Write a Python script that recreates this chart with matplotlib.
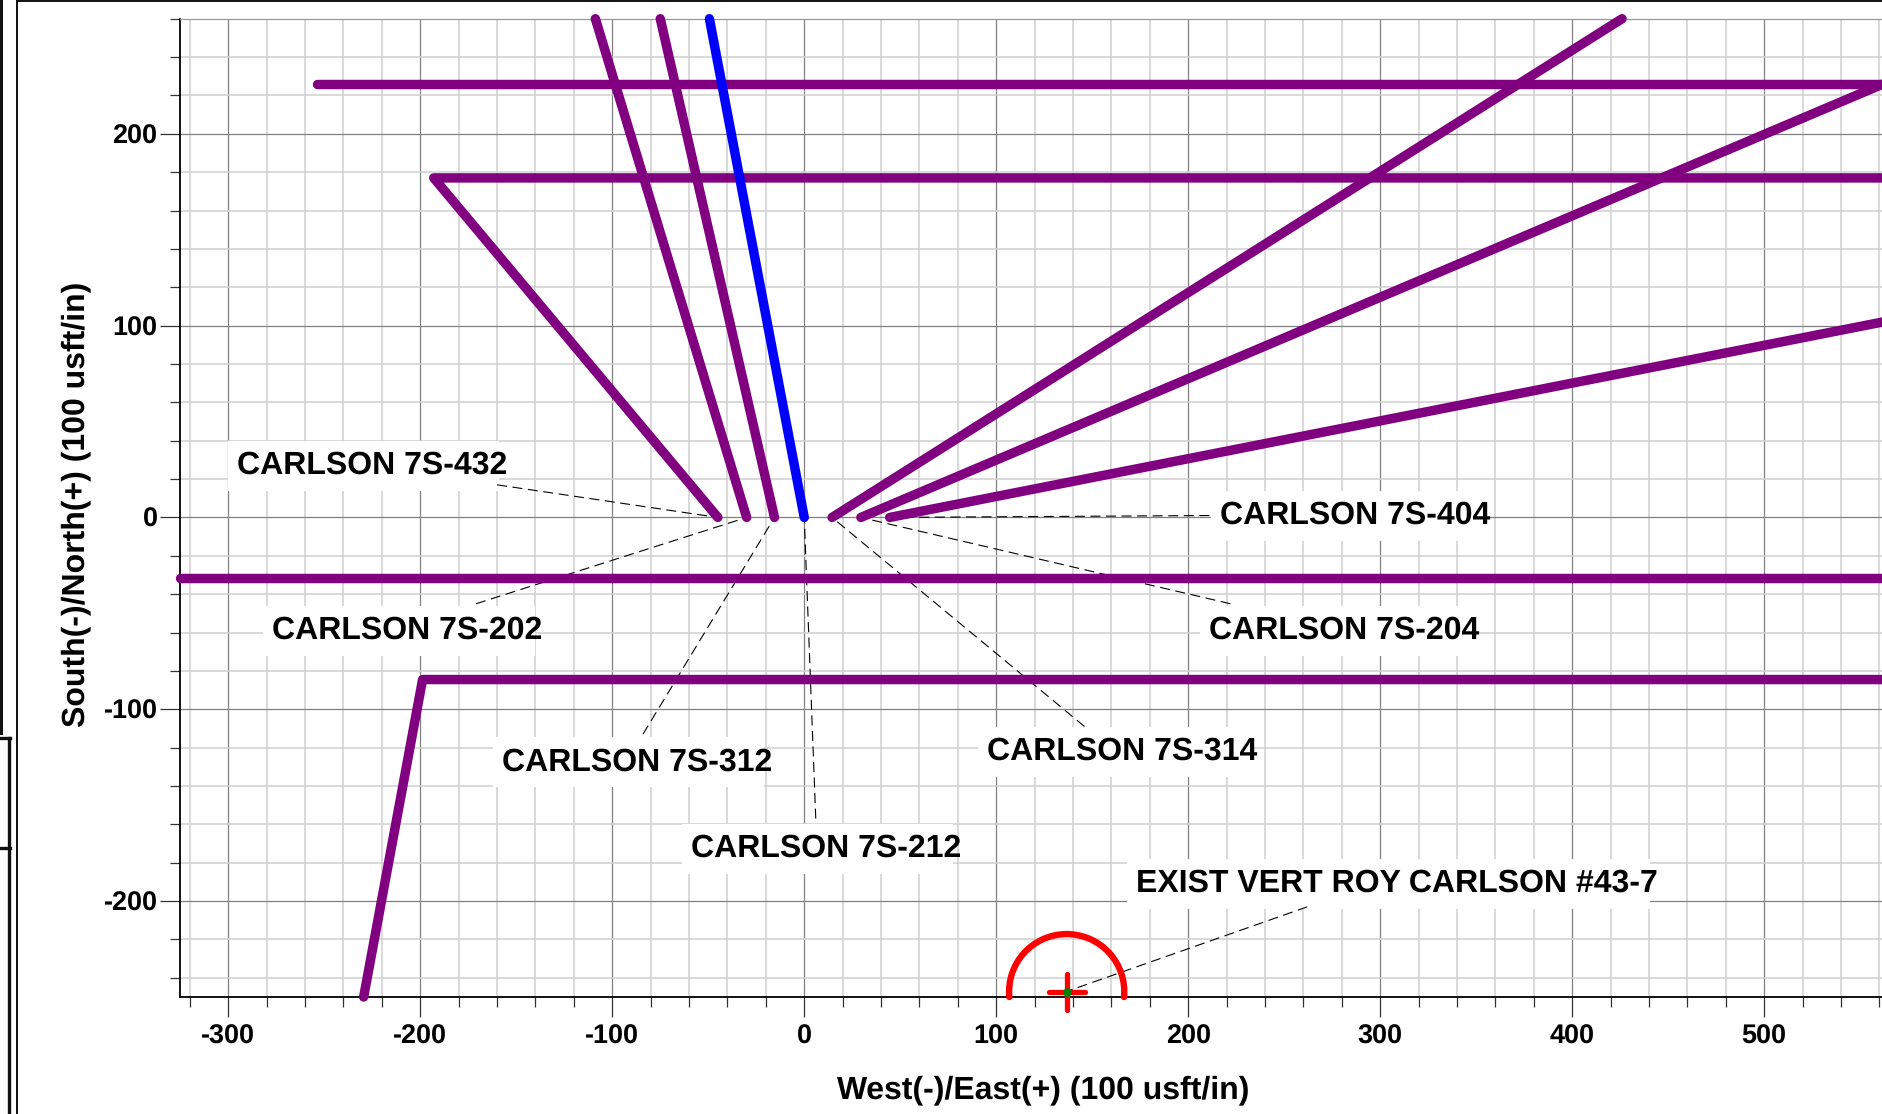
#plots the well plan view, all leg lines with their leader labels
import matplotlib
matplotlib.use("Agg")
import matplotlib.pyplot as plt
from matplotlib.lines import Line2D
from matplotlib.patches import Arc, Rectangle
from matplotlib.ticker import FuncFormatter

plt.rcParams['font.family'] = ['Liberation Sans', 'DejaVu Sans']
plt.rcParams['font.weight'] = 'bold'
plt.rcParams['text.hinting'] = 'no_hinting'
plt.rcParams['text.hinting_factor'] = 1

W, H = 1883, 1114
PURPLE = "#800080"

# wellbore legs, x then y for each
leg_432_x = [-45, -193, 575]
leg_432_y = [0, 177, 177]
leg_202_x = [-30, -108.8]
leg_202_y = [0, 260]
leg_312_x = [-15.5, -75]
leg_312_y = [0, 260]
leg_212_x = [0, -49.4]
leg_212_y = [0, 260]
leg_314_x = [14.5, 426]
leg_314_y = [0, 260]
leg_204_x = [29.5, 575]
leg_204_y = [0, 231.5]
leg_404_x = [44.5, 575]
leg_404_y = [0, 104.5]
top_x = [-254, 575]
top_y = [225.7, 225.7]
mid_x = [-325, 575]
mid_y = [-31.6, -31.6]
low_x = [-229.5, -198.8, 575]
low_y = [-250, -84.5, -84.5]
purple_legs = [(top_x, top_y), (leg_432_x, leg_432_y), (leg_202_x, leg_202_y), (leg_312_x, leg_312_y),
               (leg_314_x, leg_314_y), (leg_204_x, leg_204_y), (leg_404_x, leg_404_y),
               (mid_x, mid_y), (low_x, low_y)]

# label text, anchor (left, middle) and the leader line from it to the well
labels = ["CARLSON 7S-432", "CARLSON 7S-202", "CARLSON 7S-312", "CARLSON 7S-212",
          "CARLSON 7S-314", "CARLSON 7S-204", "CARLSON 7S-404", "EXIST VERT ROY CARLSON #43-7"]
label_x = [-295.6, -277, -157.6, -59, 95.4, 211, 216.5, 173]
label_y = [26.9, -59.1, -127.7, -172.7, -122.1, -59.1, 0.9, -190.9]
leader_x = [[-160, -45], [-171, -30], [-84, -15.5], [6, 0], [146, 14.5], [222, 29.5], [211, 44.5], [262, 137]]
leader_y = [[17, 0], [-45, 0], [-113, 0], [-157, 0], [-109, 0], [-45, 0], [1, 0], [-203, -247]]

# existing vertical well
exist_x = 136.7
exist_y = -247.2
exist_radius = 30
exist_cross = 9.4

xticks_major = [-300, -200, -100, 0, 100, 200, 300, 400, 500]
yticks_major = [-200, -100, 0, 100, 200]
xticks_minor = list(range(-320, 561, 20))
yticks_minor = list(range(-240, 261, 20))

fig = plt.figure(figsize=(W / 100, H / 100), dpi=100)
ax = fig.add_axes([180.3 / W, 1 - 997 / H, (W - 180.3) / W, (997 - 18.7) / H])
ax.set_xlim(-325, 561.9)
ax.set_ylim(-250, 259.7)

ax.set_xticks(xticks_major)
ax.set_yticks(yticks_major)
ax.set_xticks([t for t in xticks_minor if t not in xticks_major], minor=True)
ax.set_yticks([t for t in yticks_minor if t not in yticks_major], minor=True)
plain_minus = FuncFormatter(lambda v, pos: f"{v:.0f}")
ax.xaxis.set_major_formatter(plain_minus)
ax.yaxis.set_major_formatter(plain_minus)
ax.grid(which='major', color='#808080', linewidth=0.9)
ax.grid(which='minor', color='#d0d0d0', linewidth=1.1)
ax.set_axisbelow(True)
ax.tick_params(which='major', length=14.4, width=0.9, color='#333333', labelsize=19.2)
ax.tick_params(axis='x', which='major', pad=5)
ax.tick_params(axis='y', which='major', pad=2)
ax.tick_params(which='minor', length=7.2, width=0.9, color='#333333')
for side in ['left', 'bottom']:
    ax.spines[side].set_linewidth(1.3)
    ax.spines[side].set_color('black')
ax.spines['right'].set_visible(False)
ax.spines['top'].set_color('#999999')
ax.spines['top'].set_linewidth(0.9)

for leg_x, leg_y in purple_legs:
    ax.plot(leg_x, leg_y, color=PURPLE, linewidth=6.8, solid_capstyle='round', solid_joinstyle='round',
            clip_on=False, zorder=3)
ax.plot(leg_212_x, leg_212_y, color='#0000ff', linewidth=6.8, solid_capstyle='round', clip_on=False, zorder=3)

renderer = fig.canvas.get_renderer()
for name, lx, ly, dash_x, dash_y in zip(labels, label_x, label_y, leader_x, leader_y):
    ax.plot(dash_x, dash_y, color='black', linewidth=0.8, dashes=(9, 5), zorder=2.5)
    label = ax.text(lx, ly, name, fontsize=23, va='center', ha='left', zorder=2.4)
    # white box sits a bit left of the text, the text runs slightly past its right side
    ext = label.get_window_extent(renderer)
    mid = (ext.y0 + ext.y1) / 2
    ax.add_patch(Rectangle((ext.x0 - 9, mid - 25), ext.width + 1, 50, transform=None,
                           facecolor='white', edgecolor='none', zorder=2.3))

ax.add_patch(Arc((exist_x, exist_y), exist_radius * 2, exist_radius * 2, theta1=-5.4, theta2=185.4,
                 color='#ff0000', linewidth=4.6, capstyle='round', clip_on=False, zorder=4))
ax.plot([exist_x - exist_cross, exist_x + exist_cross], [exist_y, exist_y], color='#ff0000', linewidth=3.8,
        solid_capstyle='round', clip_on=False, zorder=4)
ax.plot([exist_x, exist_x], [exist_y - exist_cross, exist_y + exist_cross], color='#ff0000', linewidth=3.8,
        solid_capstyle='round', clip_on=False, zorder=4)
ax.plot([exist_x], [exist_y], 'o', color='#008000', markersize=6.2, markeredgewidth=0, clip_on=False, zorder=5)

fig.text(1043 / W, 1 - 1090 / H, "West(-)/East(+) (100 usft/in)", fontsize=23.2, ha='center', va='center')
fig.text(76 / W, 1 - 504 / H, "South(-)/North(+) (100 usft/in)", fontsize=23.2, ha='center', va='center',
         rotation=90)

# frame pieces of the surrounding drawing sheet
sheet = [([17, 17], [0, H], 1.4), ([17, W], [0.8, 0.8], 1.4), ([1.3, 1.3], [0, 733], 2.2),
         ([0, 10], [738, 738], 2.4), ([0, 10], [848, 848], 2.4), ([9, 9], [738, H], 2.4)]
for sx, sy, lw in sheet:
    fig.add_artist(Line2D([p / W for p in sx], [1 - p / H for p in sy], color='#111111', linewidth=lw))

plt.savefig("out.png", dpi=100)
plt.close()
